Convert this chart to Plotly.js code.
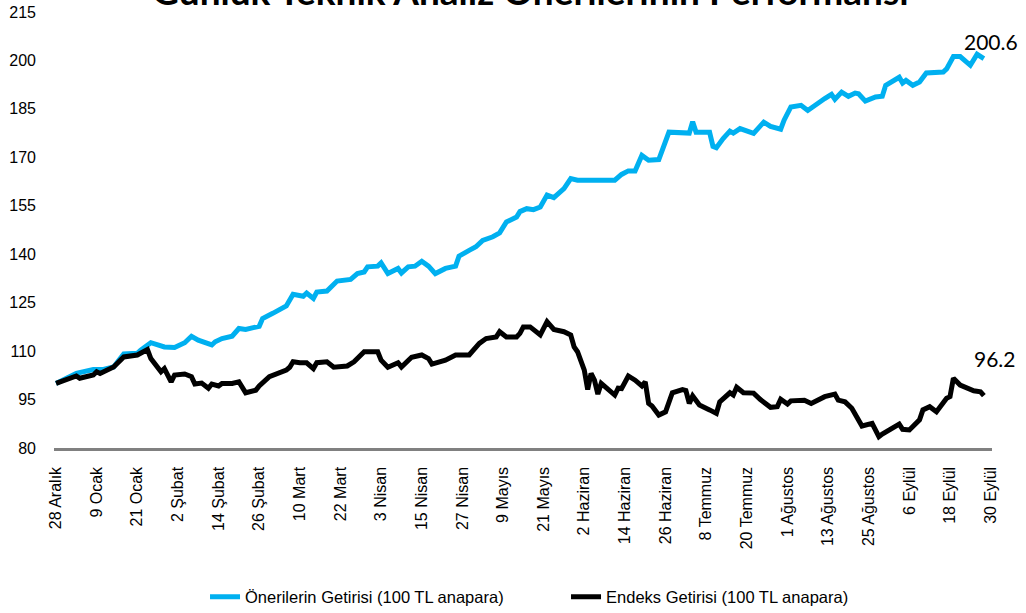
<!DOCTYPE html>
<html>
<head>
<meta charset="utf-8">
<script src="https://cdn.plot.ly/plotly-3.0.1.min.js"></script>
<style>html,body{margin:0;padding:0;background:#fff;}#chart{width:1026px;height:613px;}</style>
</head>
<body>
<div id="chart"></div>
<script>
// Day offsets counted from 28 Aralık
const tickDays = [0,12,24,36,48,60,72,84,96,108,120,132,144,156,168,180,192,204,216,228,240,252,264,276];
const tickLabels = ['28 Aralık','9 Ocak','21 Ocak','2 Şubat','14 Şubat','26 Şubat','10 Mart','22 Mart','3 Nisan','15 Nisan','27 Nisan','9 Mayıs','21 Mayıs','2 Haziran','14 Haziran','26 Haziran','8 Temmuz','20 Temmuz','1 Ağustos','13 Ağustos','25 Ağustos','6 Eylül','18 Eylül','30 Eylül'];

const seriesNames = ['Önerilerin Getirisi (100 TL anapara)', 'Endeks Getirisi (100 TL anapara)'];

const oneriDays = [0,6,11,14,17,19,20,24,25,28,32,35,38,40,42,46,47,49,52,54,56,60,61,64,67,68,70,73,74,76,77,80,83,87,89,91,92,95,96,97,98,101,102,104,106,108,110,112,115,118,119,122,124,126,129,131,133,136,137,139,141,143,145,147,150,152,154,165,167,169,171,173,175,178,181,187,188,189,193,194,195,197,199,200,202,206,208,209,211,214,215,217,220,222,227,229,230,232,234,236,237,239,242,244,245,249,250,251,253,255,257,262,263,265,267,270,272,274];
const oneriValues = [100.0,103.1,104.3,104.3,105.1,107.7,109.1,109.3,110.3,112.6,111.3,111.1,112.6,114.6,113.4,111.9,112.9,113.9,114.6,117.0,116.7,117.7,120.1,121.7,123.2,124.0,127.6,127.0,128.0,126.3,128.3,128.6,131.7,132.2,134.0,134.5,136.1,136.3,137.3,135.6,134.0,135.6,134.2,136.1,136.3,137.8,136.3,134.0,135.6,136.3,139.4,141.2,142.3,144.3,145.4,146.6,150.0,151.5,153.2,154.1,153.8,154.6,158.3,157.5,160.3,163.4,162.9,162.9,164.7,165.8,165.8,170.6,169.1,169.3,177.8,177.5,181.0,177.8,177.8,173.4,173.0,175.8,178.1,177.5,178.9,177.4,179.4,180.9,179.6,178.7,181.5,185.6,186.1,184.5,188.2,189.5,188.0,190.2,188.9,189.9,189.7,187.4,188.7,188.9,192.3,194.8,193.0,193.8,192.3,193.3,196.1,196.4,197.4,201.2,201.2,198.5,201.9,200.6];

const endeksDays = [0,6,7,11,12,13,17,18,20,24,25,27,28,31,32,34,35,38,40,41,43,45,46,48,49,52,54,56,59,60,63,66,68,69,70,72,74,76,77,80,82,86,88,91,95,96,98,101,102,105,108,110,111,115,118,122,125,127,130,131,133,136,137,138,140,143,145,147,150,152,153,154,156,157,158,159,160,161,165,166,167,169,171,173,174,175,176,178,180,182,185,186,187,188,190,193,195,196,199,200,201,203,206,208,211,213,214,216,217,221,223,227,230,231,233,235,237,238,241,243,244,247,249,250,252,255,256,258,260,263,264,265,267,271,273,274];
const endeksValues = [100.0,102.3,101.6,102.6,103.6,103.1,105.1,106.0,108.2,108.8,109.3,110.5,107.7,103.6,104.6,100.5,102.6,102.9,102.1,99.8,100.1,98.5,99.8,99.2,100.0,100.0,100.5,97.1,97.9,99.2,102.1,103.1,104.1,105.0,106.7,106.4,106.4,104.6,106.4,106.7,105.0,105.4,106.7,109.8,109.8,107.2,105.0,106.4,105.1,108.1,108.8,107.7,106.0,107.2,108.8,108.8,112.4,113.9,114.4,116.0,114.4,114.4,115.5,117.5,117.5,115.0,119.1,116.7,116.0,115.0,111.3,109.8,104.1,98.1,103.1,101.0,96.7,100.0,96.4,98.5,98.4,102.3,101.0,99.2,100.5,93.8,93.0,90.2,91.2,97.1,98.1,97.8,93.8,96.1,93.3,91.8,90.7,94.3,97.1,96.4,98.8,97.1,97.0,95.0,92.6,92.8,95.1,93.6,94.6,94.8,93.8,95.9,96.7,94.8,94.3,92.3,88.4,86.8,87.6,83.5,84.3,86.1,87.4,85.8,85.6,88.7,91.8,92.8,91.2,95.4,95.9,101.6,99.5,97.7,97.4,96.2];

const axisFont = '"Liberation Sans", Arial, sans-serif';
const labelFont = 'Lato, "Open Sans", sans-serif';

const traces = [
  {x: oneriDays, y: oneriValues, name: seriesNames[0], type: 'scatter', mode: 'lines',
   line: {color: '#00B0F0', width: 5}},
  {x: endeksDays, y: endeksValues, name: seriesNames[1], type: 'scatter', mode: 'lines',
   line: {color: '#000000', width: 5}}
];

const lastO = oneriValues.length - 1, lastE = endeksValues.length - 1;

const layout = {
  width: 1026, height: 613,
  paper_bgcolor: '#ffffff', plot_bgcolor: '#ffffff',
  margin: {l: 54, r: 34, t: 12, b: 165},
  title: {text: '<b>Günlük Teknik Analiz Önerilerinin Performansı</b>',
          font: {family: labelFont, size: 37, color: '#000'},
          x: 0.517, xanchor: 'center', y: 0.992, yanchor: 'bottom', yref: 'container'},
  xaxis: {range: [-0.6, 276.4], tickmode: 'array', tickvals: tickDays, ticktext: tickLabels,
          tickangle: -90, showgrid: false, zeroline: false, showline: true,
          linecolor: '#808080', linewidth: 2.5, ticks: '', ticklabelstandoff: 10,
          tickfont: {family: axisFont, size: 16, color: '#000'}},
  yaxis: {range: [80, 215], tick0: 80, dtick: 15, showgrid: false, zeroline: false,
          showline: false, ticks: '', ticklabelstandoff: 17,
          tickfont: {family: axisFont, size: 16, color: '#000'}},
  showlegend: true,
  legend: {orientation: 'h', x: 0.161, xanchor: 'left', y: 0.026, yanchor: 'middle', yref: 'container',
           entrywidth: 316, entrywidthmode: 'pixels',
           font: {family: axisFont, size: 16.5, color: '#000'}},
  annotations: [
    {x: oneriDays[lastO], y: oneriValues[lastO], text: oneriValues[lastO].toFixed(1), showarrow: false,
     xanchor: 'center', yanchor: 'middle', xshift: 7, yshift: 17, font: {family: labelFont, size: 21, color: '#000'}},
    {x: endeksDays[lastE], y: endeksValues[lastE], text: endeksValues[lastE].toFixed(1), showarrow: false,
     xanchor: 'center', yanchor: 'middle', xshift: 11, yshift: 37, font: {family: labelFont, size: 21, color: '#000'}}
  ]
};

Plotly.newPlot('chart', traces, layout, {displayModeBar: false, staticPlot: true});
</script>
</body>
</html>
